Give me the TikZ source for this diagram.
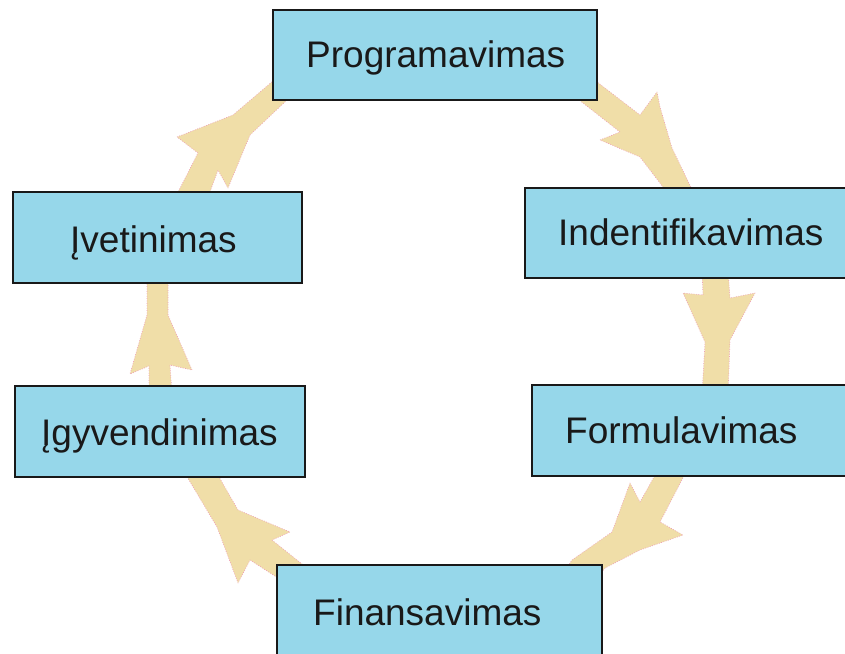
\documentclass[tikz,border=0pt]{standalone}
\usepackage{fontspec}
\setmainfont{Liberation Sans}
\definecolor{boxfill}{RGB}{150,215,234}
\definecolor{arrowfill}{RGB}{240,222,168}
\definecolor{arrowedge}{RGB}{238,160,185}
\begin{document}
\begin{tikzpicture}[x=1pt,y=-1pt,
  flow/.style={fill=arrowfill,draw=arrowedge,line width=0.7pt,dash pattern=on 0.8pt off 1.6pt,line join=round},
  stage/.style={fill=boxfill,draw=black!90,line width=1.5pt,inner sep=0pt},
  stagetext/.style={anchor=base west,inner sep=0pt,text=black!90,font=\fontsize{37}{40}\selectfont}]
\useasboundingbox (0,0) rectangle (845,653);
\clip (0,0) rectangle (845,653);

% block arrows of the cycle (drawn first, the boxes cover their ends)
\path[flow] (575,65) -- (640,115) -- (657,92) -- (660,107) -- (672,148) -- (697,200)
  -- (673,200) -- (640,157) -- (600,140) -- (620,132) -- (560,85) -- cycle;
\path[flow] (702,270) -- (703,295) -- (683,293) -- (705,342) -- (702,395) -- (728,395)
  -- (730,340) -- (755,293) -- (730,298) -- (728,270) -- cycle;
\path[flow] (658,470) -- (640,502) -- (630,483) -- (612,532) -- (572,560) -- (562,575)
  -- (595,580) -- (605,568) -- (640,550) -- (683,535) -- (660,522) -- (687,470) -- cycle;
\path[flow] (312,572) -- (272,540) -- (290,532) -- (238,510) -- (215,470) -- (183,470)
  -- (217,527) -- (238,583) -- (250,560) -- (295,589) -- cycle;
\path[flow] (172,395) -- (170,365) -- (192,370) -- (168,315) -- (168,275) -- (147,275)
  -- (147,315) -- (130,374) -- (149,366) -- (149,395) -- cycle;
\path[flow] (174,200) -- (198,153) -- (177,137) -- (233,115) -- (280,75) -- (300,92)
  -- (287,100) -- (250,135) -- (228,188) -- (218,170) -- (207,200) -- cycle;

% stage boxes
\node[stage,minimum width=324pt,minimum height=90pt] (prog) at (435,55) {};
\node[stage,minimum width=345pt,minimum height=90pt] (ident) at (697.5,233) {};
\node[stage,minimum width=338pt,minimum height=91pt] (form) at (701,430.5) {};
\node[stage,minimum width=325pt,minimum height=125pt] (fin) at (439.5,627.5) {};
\node[stage,minimum width=290pt,minimum height=91pt] (igyv) at (160,431.5) {};
\node[stage,minimum width=289pt,minimum height=91pt] (ivet) at (157.5,237.5) {};

% stage names
\node[stagetext] (progt) at (306,67) {Programavimas};
\node[stagetext] (identt) at (558,245) {Indentifikavimas};
\node[stagetext] (formt) at (565,443) {Formulavimas};
\node[stagetext] (fint) at (313,625) {Finansavimas};
\node[stagetext] (igyvt) at (41,445) {Įgyvendinimas};
\node[stagetext] (ivett) at (70,252) {Įvetinimas};
\end{tikzpicture}
\end{document}
